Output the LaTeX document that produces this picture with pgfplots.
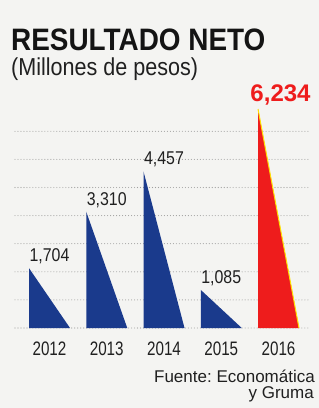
\documentclass[border=0pt]{standalone}
\usepackage{fontspec}
\setmainfont{Liberation Sans}
\newfontfamily\cond[FakeStretch=0.86]{Liberation Sans}
\newfontfamily\condsub[FakeStretch=0.88]{Liberation Sans}
\newfontfamily\condyr[FakeStretch=0.78]{Liberation Sans}
\newfontfamily\condtitle[FakeStretch=0.9]{Liberation Sans}
\usepackage{pgfplots}
\pgfplotsset{compat=1.18}
\definecolor{navy}{HTML}{1A3A8C}
\definecolor{redbar}{HTML}{EE1C1C}
\definecolor{bg}{HTML}{F4F4F2}
\definecolor{txt}{HTML}{202020}
\frenchspacing
\begin{document}
\begin{tikzpicture}[x=1bp,y=1bp]
\fill[bg] (0,0) rectangle (319,408);
\begin{axis}[
  at={(15bp,80bp)}, anchor=south west,
  scale only axis, width=295bp, height=224.8bp,
  xmin=-0.6026, xmax=4.550, ymin=0, ymax=6400,
  axis line style={draw=none},
  xtick=\empty,
  ytick={0,800,...,5600}, yticklabels={},
  major tick length=0pt,
  ymajorgrids,
  major grid style={gray!75, line width=1.1pt, line cap=round, dash pattern=on 0pt off 3pt},
  clip=false,
]
\addplot[fill=navy, draw=none] coordinates {(-0.358,0) (-0.358,1704) (0.358,0)} -- cycle;
\addplot[fill=navy, draw=none] coordinates {(0.642,0) (0.642,3310) (1.358,0)} -- cycle;
\addplot[fill=navy, draw=none] coordinates {(1.642,0) (1.642,4457) (2.358,0)} -- cycle;
\addplot[fill=navy, draw=none] coordinates {(2.642,0) (2.642,1085) (3.358,0)} -- cycle;
\addplot[fill=redbar, draw=none] coordinates {(3.642,0) (3.642,6234) (4.358,0)} -- cycle;
\addplot[draw=yellow!85!orange, line width=1pt] coordinates {(3.642,6234) (4.358,0)};
\foreach \i/\v/\l in {0/1704/{1,704},1/3310/{3,310},2/4457/{4,457},3/1085/{1,085}}{
  \edef\tmp{\noexpand\node[anchor=base, inner sep=0pt, yshift=6.5bp, font=\noexpand\cond\noexpand\fontsize{18.5bp}{20bp}\noexpand\selectfont, text=txt] at (axis cs:\i,\v) {\l};}
  \tmp
}
\node[anchor=base, inner sep=0pt, yshift=8bp, xshift=2bp, font=\bfseries\fontsize{24bp}{26bp}\selectfont, text=redbar] at (axis cs:4,6234) {6,234};
\foreach \i/\y in {0/2012,1/2013,2/2014,3/2015,4/2016}{
  \edef\tmp{\noexpand\node[anchor=base, inner sep=0pt, yshift=-27bp, font=\noexpand\condyr\noexpand\fontsize{19.5bp}{21bp}\noexpand\selectfont, text=txt] at (axis cs:\i,0) {\y};}
  \tmp
}
\end{axis}
\node[anchor=base west, inner sep=0pt, font=\condtitle\bfseries\fontsize{31bp}{33bp}\selectfont, text=black!92] at (11,358) {RESULTADO NETO};
\node[anchor=base west, inner sep=0pt, font=\condsub\fontsize{24.5bp}{26bp}\selectfont, text=txt] at (11,333) {(Millones de pesos)};
\node[anchor=base east, inner sep=0pt, font=\fontsize{17bp}{18bp}\selectfont, text=txt] at (315,26) {Fuente: Economática};
\node[anchor=base east, inner sep=0pt, font=\fontsize{17bp}{18bp}\selectfont, text=txt] at (314,10) {y Gruma};
\pgfresetboundingbox
\path[use as bounding box] (0,0) rectangle (319,408);
\end{tikzpicture}
\end{document}
